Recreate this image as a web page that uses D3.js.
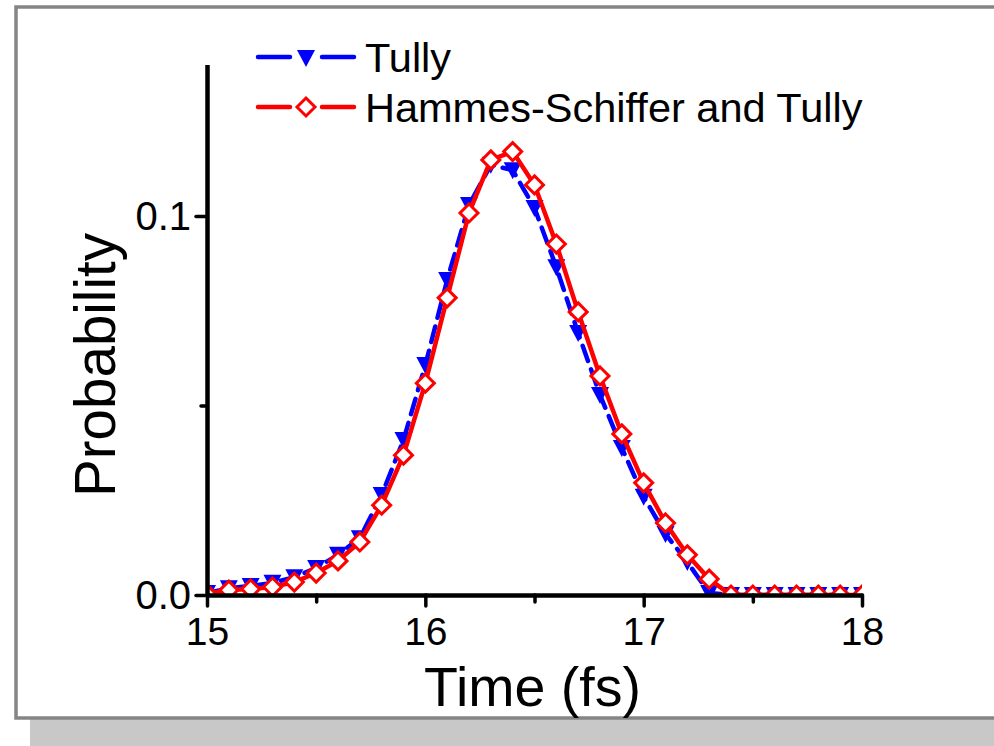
<!DOCTYPE html>
<html>
<head>
<meta charset="utf-8">
<script src="https://cdn.jsdelivr.net/npm/d3@7"></script>
<style>
  html, body { margin: 0; padding: 0; background: #fff; }
  svg { display: block; font-family: "Liberation Sans", Arial, sans-serif; }
</style>
</head>
<body>
<svg id="chart" width="994" height="746"></svg>
<script>
// ---- data ----
const times = [15.0, 15.1, 15.2, 15.3, 15.4, 15.5, 15.6, 15.7, 15.8, 15.9,
               16.0, 16.1, 16.2, 16.3, 16.4, 16.5, 16.6, 16.7, 16.8, 16.9,
               17.0, 17.1, 17.2, 17.3, 17.4, 17.5, 17.6, 17.7, 17.8, 17.9, 18.0];
const tully = [0.0005, 0.0018, 0.0024, 0.0032, 0.0047, 0.0071, 0.0106, 0.0150, 0.0264, 0.0409,
               0.0607, 0.0831, 0.1029, 0.1135, 0.1121, 0.1021, 0.0865, 0.0691, 0.0528, 0.0388,
               0.0259, 0.0161, 0.0087, 0.0005, 0, 0, 0, 0, 0, 0, 0];
const hammesSchiffer = [0.0003, 0.0013, 0.0016, 0.0021, 0.0034, 0.0058, 0.0090, 0.0140, 0.0237, 0.0369,
               0.0559, 0.0784, 0.1008, 0.1148, 0.1170, 0.1082, 0.0926, 0.0747, 0.0578, 0.0425,
               0.0296, 0.0190, 0.0106, 0.0042, 0, 0, 0, 0, 0, 0, 0];
const seriesNames = ["Tully", "Hammes-Schiffer and Tully"];
const xMajorTicks = [15, 16, 17, 18];
const xMinorTicks = [15.5, 16.5, 17.5];
const yMajorTicks = [0.0, 0.1];
const yMinorTicks = [0.05];
const xTitle = "Time (fs)";
const yTitle = "Probability";

// ---- layout ----
const svg = d3.select("#chart");
const FONT = "'Liberation Sans', Arial, sans-serif";
const pLeft = 207, pRight = 862, pTop = 64.4, pBottom = 595;

// frame with shadow
svg.append("rect").attr("x", 30).attr("y", 712).attr("width", 970).attr("height", 40)
  .attr("fill", "#c8c8c8");
svg.append("rect").attr("x", 16).attr("y", 7).attr("width", 1000).attr("height", 711)
  .attr("fill", "#fff").attr("stroke", "#858585").attr("stroke-width", 3.5);

const x = d3.scaleLinear().domain([15, 18]).range([pLeft, pRight]);
const y = d3.scaleLinear().domain([0, 0.14]).range([pBottom, pTop]);

svg.append("defs").append("clipPath").attr("id", "plotclip")
  .append("rect").attr("x", pLeft).attr("y", pTop).attr("width", pRight - pLeft).attr("height", pBottom - pTop);

const plot = svg.append("g").attr("clip-path", "url(#plotclip)");

const triPath = "M-9,-8L9,-8L0,9Z";
const diaPath = "M0,-9L9,0L0,9L-9,0Z";

const line = d3.line().x(d => x(d[0])).y(d => y(d[1]));
const blueData = times.map((t, i) => [t, tully[i]]);
const redData = times.map((t, i) => [t, hammesSchiffer[i]]);

// Tully (blue dashed, filled down triangles)
plot.append("path").datum(blueData).attr("d", line)
  .attr("fill", "none").attr("stroke", "#0000ff").attr("stroke-width", 4.5)
  .attr("stroke-dasharray", "16,9").attr("stroke-linecap", "round").attr("stroke-linejoin", "round");
plot.selectAll(".tri").data(blueData).enter().append("path")
  .attr("d", triPath).attr("fill", "#0000ff")
  .attr("transform", d => `translate(${x(d[0])},${y(d[1])})`);

// Hammes-Schiffer and Tully (red solid, open diamonds)
plot.append("path").datum(redData).attr("d", line)
  .attr("fill", "none").attr("stroke", "#ff0000").attr("stroke-width", 4.5)
  .attr("stroke-linejoin", "round");
plot.selectAll(".dia").data(redData).enter().append("path")
  .attr("d", diaPath).attr("fill", "#fff").attr("stroke", "#ff0000").attr("stroke-width", 3)
  .attr("transform", d => `translate(${x(d[0])},${y(d[1])})`);

// ---- axes ----
function styleAxis(g, fontSize) {
  g.select(".domain").attr("stroke", "#000").attr("stroke-width", 4);
  g.selectAll(".tick line").attr("stroke", "#000").attr("stroke-width", 3.5).attr("stroke-linecap", "round");
  g.selectAll(".tick text").attr("fill", "#000").style("font-size", fontSize + "px").style("font-family", FONT);
}

const xMinor = svg.append("g").attr("transform", `translate(0,${pBottom})`)
  .call(d3.axisBottom(x).tickValues(xMinorTicks).tickSize(7).tickSizeOuter(0).tickFormat(""));
styleAxis(xMinor, 39);
const xAxis = svg.append("g").attr("transform", `translate(0,${pBottom})`)
  .call(d3.axisBottom(x).tickValues(xMajorTicks).tickSize(11).tickSizeOuter(0).tickPadding(11).tickFormat(d3.format("d")));
styleAxis(xAxis, 39);

const yMinor = svg.append("g").attr("transform", `translate(${pLeft},0)`)
  .call(d3.axisLeft(y).tickValues(yMinorTicks).tickSize(6).tickSizeOuter(0).tickFormat(""));
styleAxis(yMinor, 40);
const yAxis = svg.append("g").attr("transform", `translate(${pLeft},0)`)
  .call(d3.axisLeft(y).tickValues(yMajorTicks).tickSize(11).tickSizeOuter(0).tickPadding(5).tickFormat(d3.format(".1f")));
styleAxis(yAxis, 40);
yAxis.selectAll(".tick text").attr("dy", "0.34em");

// axis titles
svg.append("text").attr("x", (pLeft + pRight) / 2 - 2).attr("y", 706)
  .attr("text-anchor", "middle").style("font-size", "55.5px").style("font-family", FONT)
  .text(xTitle);
svg.append("text").attr("transform", "translate(115,365) rotate(-90)")
  .attr("text-anchor", "middle").style("font-size", "56.5px").style("font-family", FONT)
  .text(yTitle);

// ---- legend ----
const legend = svg.append("g");
const legendRows = [
  { name: seriesNames[0], color: "#0000ff", sym: triPath, fill: "#0000ff", sw: 0, cy: 57 },
  { name: seriesNames[1], color: "#ff0000", sym: diaPath, fill: "#fff", sw: 3, cy: 107 }
];
legendRows.forEach(r => {
  [[258, 290], [322, 354]].forEach(seg => {
    legend.append("line").attr("x1", seg[0]).attr("x2", seg[1]).attr("y1", r.cy).attr("y2", r.cy)
      .attr("stroke", r.color).attr("stroke-width", 4.5).attr("stroke-linecap", "round");
  });
  legend.append("path").attr("d", r.sym).attr("fill", r.fill)
    .attr("stroke", r.sw ? r.color : "none").attr("stroke-width", r.sw)
    .attr("transform", `translate(306,${r.cy + (r.sw ? 0 : 1)})`);
  legend.append("text").attr("x", 365).attr("y", r.cy + 15)
    .style("font-size", "41.5px").style("font-family", FONT).attr("fill", "#000").text(r.name);
});
</script>
</body>
</html>
